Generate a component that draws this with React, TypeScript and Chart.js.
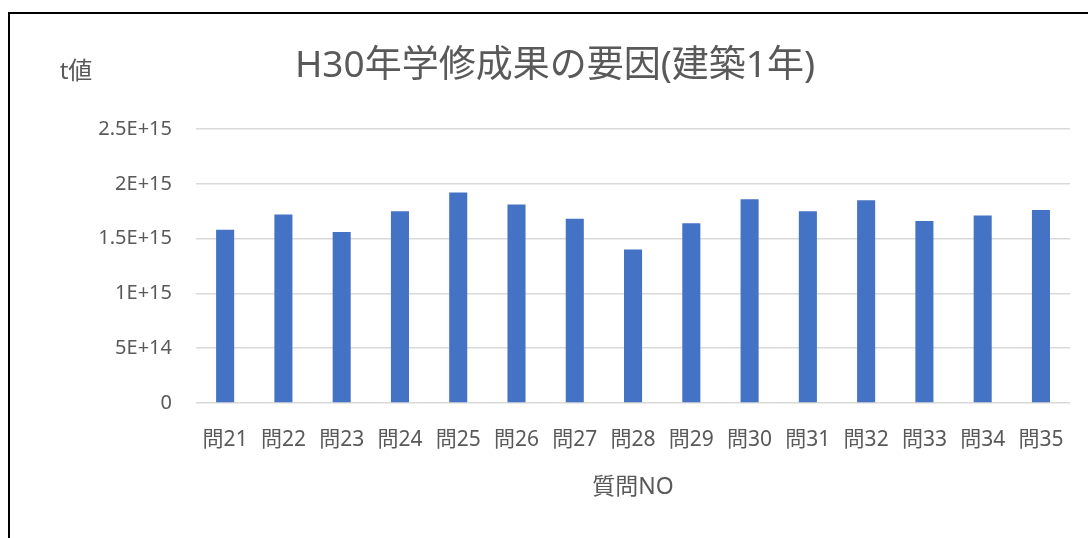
import React, { useEffect, useRef } from "react";
import { Chart, registerables } from "chart.js";

Chart.register(...registerables);

const categories = ["問21", "問22", "問23", "問24", "問25", "問26", "問27", "問28", "問29", "問30", "問31", "問32", "問33", "問34", "問35"];
const tValues = [1.58e15, 1.72e15, 1.56e15, 1.75e15, 1.92e15, 1.81e15, 1.68e15, 1.40e15, 1.64e15, 1.86e15, 1.75e15, 1.85e15, 1.66e15, 1.71e15, 1.76e15];
const yTickLabels = ["0", "5E+14", "1E+15", "1.5E+15", "2E+15", "2.5E+15"];
const chartTitle = "H30年学修成果の要因(建築1年)";
const yAxisTitle = "t値";
const xAxisTitle = "質問NO";

const FONT = '"Noto Sans", "Noto Sans CJK JP", sans-serif';
const TEXT = "#595959";

const textPlugin = {
  id: "customTexts",
  afterDraw(chart: any) {
    const ctx = chart.ctx;
    ctx.save();
    ctx.fillStyle = TEXT;
    ctx.textAlign = "center";
    ctx.textBaseline = "middle";
    ctx.font = `37px ${FONT}`;
    ctx.fillText(chartTitle, 555, 66);
    ctx.font = `24px ${FONT}`;
    ctx.fillText(yAxisTitle, 76, 72);
    ctx.restore();
  },
};

export default function App() {
  const ref = useRef<HTMLCanvasElement | null>(null);
  useEffect(() => {
    if (!ref.current) return;
    const chart = new Chart(ref.current, {
      type: "bar",
      data: {
        labels: categories,
        datasets: [
          {
            label: "t値",
            data: tValues,
            backgroundColor: "#4472C4",
            barPercentage: 0.31,
            categoryPercentage: 1,
          },
        ],
      },
      options: {
        responsive: false,
        animation: false,
        layout: { padding: { left: 0, top: 129, right: 16, bottom: 0 } },
        plugins: {
          legend: { display: false },
          title: { display: false },
          tooltip: { enabled: false },
        },
        scales: {
          x: {
            grid: { display: false, drawTicks: false },
            border: { display: false },
            ticks: { color: TEXT, font: { family: FONT, size: 21 }, padding: 24, maxRotation: 0, autoSkip: false },
            title: { display: true, text: xAxisTitle, color: TEXT, font: { family: FONT, size: 23 }, padding: { top: 0, bottom: 37 } },
            afterFit: (scale: any) => { scale.height = 135; },
          },
          y: {
            min: 0,
            max: 2.5e15,
            grid: { color: "#d9d9d9", lineWidth: 1.5, drawTicks: false },
            border: { display: false },
            ticks: {
              stepSize: 5e14,
              color: TEXT,
              font: { family: FONT, size: 20 },
              padding: 24,
              callback: (_v: any, i: number) => yTickLabels[i],
            },
            afterFit: (scale: any) => { scale.width = 196; },
          },
        },
      },
      plugins: [textPlugin],
    });
    return () => chart.destroy();
  }, []);

  return (
    <div style={{ position: "fixed", left: 0, top: 0, width: 1088, height: 538, background: "#fff", overflow: "hidden" }}>
      <div style={{ position: "absolute", left: 8, top: 12, width: 1200, height: 700, border: "2px solid #000", boxSizing: "border-box" }} />
      <canvas ref={ref} width={1088} height={538} style={{ position: "absolute", left: 0, top: 0, width: 1088, height: 538 }} />
    </div>
  );
}
